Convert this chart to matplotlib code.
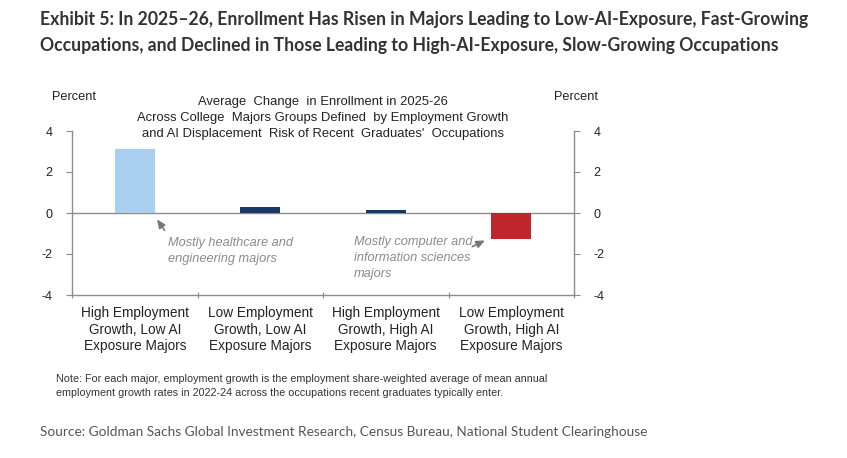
import matplotlib
matplotlib.use("Agg")
import matplotlib.pyplot as plt

categories = [
    "High Employment\nGrowth, Low AI\nExposure Majors",
    "Low Employment\nGrowth, Low AI\nExposure Majors",
    "High Employment\nGrowth, High AI\nExposure Majors",
    "Low Employment\nGrowth, High AI\nExposure Majors",
]
values = [3.1, 0.3, 0.15, -1.25]
bar_colors = ["#a9cfee", "#17375e", "#17375e", "#c0272d"]
yticks = [-4, -2, 0, 2, 4]

W, H = 847, 458
fig = plt.figure(figsize=(W / 100, H / 100), dpi=100)
fig.patch.set_facecolor("white")

arial = "Liberation Sans"

def fx(px):
    return px / W

def fy(py):
    return 1 - py / H

ax = fig.add_axes([fx(72), fy(295), fx(574) - fx(72), fy(131) - fy(295)])
x = list(range(len(categories)))
ax.bar(x, values, width=0.32, color=bar_colors, zorder=3)
ax.axhline(0, color="#8c8c8c", lw=1.0, zorder=2)
ax.set_xlim(-0.5, 3.5)
ax.set_ylim(-4, 4)

ax.spines["top"].set_visible(False)
for s in ["left", "right", "bottom"]:
    ax.spines[s].set_color("#8c8c8c")
    ax.spines[s].set_linewidth(1.0)

ax.set_yticks(yticks)
ax.set_yticklabels([str(v) for v in yticks])
ax.tick_params(axis="y", which="both", direction="out", length=4, width=0.8,
               color="#8c8c8c", labelsize=9, labelcolor="#222222", pad=10,
               left=True, right=True, labelleft=True, labelright=True)
for lab in ax.get_yticklabels():
    lab.set_fontfamily(arial)

ax.set_xticks(x)
ax.set_xticklabels(categories, fontsize=9.8, color="#222222", fontfamily=arial,
                   linespacing=1.24)
ax.tick_params(axis="x", which="major", length=0, pad=8)
ax.set_xticks([-0.5, 0.5, 1.5, 2.5, 3.5], minor=True)
ax.tick_params(axis="x", which="minor", direction="inout", length=5, width=0.8,
               color="#8c8c8c")

# percent labels
fig.text(fx(52), fy(97), "Percent", fontsize=9.2, color="#222222",
         fontfamily=arial, va="center", ha="left")
fig.text(fx(598), fy(97), "Percent", fontsize=9.2, color="#222222",
         fontfamily=arial, va="center", ha="right")

# inner title
fig.text(fx(323), fy(118),
         "Average  Change  in Enrollment in 2025-26\n"
         "Across College  Majors Groups Defined  by Employment Growth\n"
         "and AI Displacement  Risk of Recent  Graduates'  Occupations",
         fontsize=9.4, color="#222222", fontfamily=arial, ha="center",
         va="center", linespacing=1.45)

# annotations
ax.annotate("", xy=(0.165, -0.2), xytext=(0.25, -0.95),
            arrowprops=dict(arrowstyle="-|>,head_length=0.5,head_width=0.22",
                            color="#777777", lw=1.2), zorder=4)
ax.text(0.265, -1.85, "Mostly healthcare and\nengineering majors",
        fontsize=9.2, style="italic", color="#8a8a8a", fontfamily=arial,
        ha="left", va="center", linespacing=1.45)
ax.annotate("", xy=(2.81, -1.28), xytext=(2.67, -1.7),
            arrowprops=dict(arrowstyle="-|>,head_length=0.5,head_width=0.22",
                            color="#777777", lw=1.2), zorder=4)
ax.text(1.747, -2.2, "Mostly computer and\ninformation sciences\nmajors",
        fontsize=9.2, style="italic", color="#8a8a8a", fontfamily=arial,
        ha="left", va="center", linespacing=1.45)

# main title
fig.text(fx(40), fy(19),
         "Exhibit 5: In 2025\u201326, Enrollment Has Risen in Majors Leading to Low-AI-Exposure, Fast-Growing",
         fontsize=12.7, fontweight="bold", color="#333333", fontfamily=["Lato", "DejaVu Sans"],
         ha="left", va="center")
fig.text(fx(40), fy(45),
         "Occupations, and Declined in Those Leading to High-AI-Exposure, Slow-Growing Occupations",
         fontsize=12.7, fontweight="bold", color="#333333", fontfamily=["Lato", "DejaVu Sans"],
         ha="left", va="center")

# note
fig.text(fx(56), fy(385.5),
         "Note: For each major, employment growth is the employment share-weighted average of mean annual\n"
         "employment growth rates in 2022-24 across the occupations recent graduates typically enter.",
         fontsize=7.75, color="#333333", fontfamily=arial, ha="left", va="center",
         linespacing=1.5)

# source
fig.text(fx(40), fy(432),
         "Source: Goldman Sachs Global Investment Research, Census Bureau, National Student Clearinghouse",
         fontsize=9.8, color="#555555", fontfamily="Lato", ha="left", va="center")

fig.savefig("out.png", dpi=100, facecolor="white")
